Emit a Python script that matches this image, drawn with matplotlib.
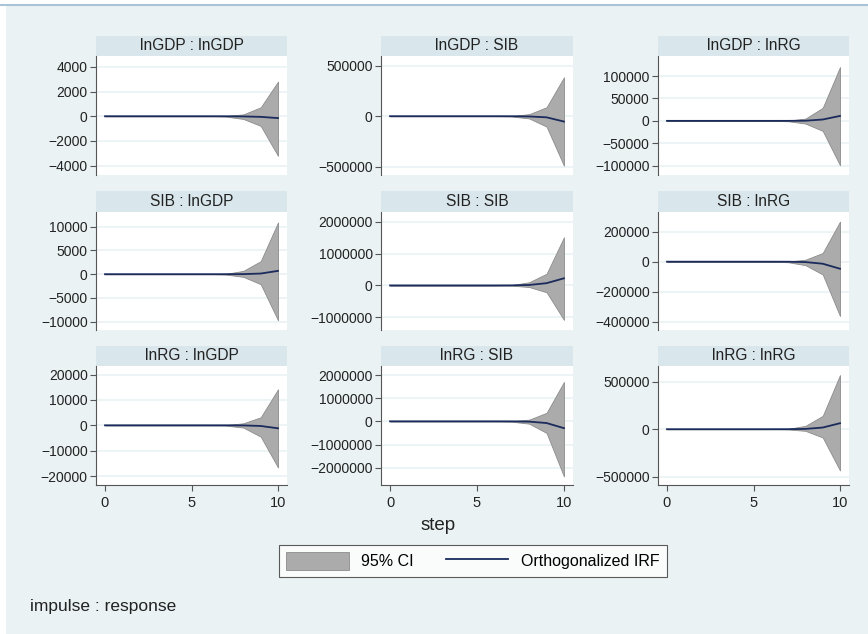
import matplotlib
matplotlib.use("Agg")
import matplotlib.pyplot as plt
from matplotlib.patches import Patch, Rectangle
from matplotlib.lines import Line2D

plt.rcParams["font.family"] = ["Liberation Sans", "DejaVu Sans"]

# impulse : response panels, row by row
titles = [
    "lnGDP : lnGDP", "lnGDP : SIB", "lnGDP : lnRG",
    "SIB : lnGDP", "SIB : SIB", "SIB : lnRG",
    "lnRG : lnGDP", "lnRG : SIB", "lnRG : lnRG",
]
steps = [0, 1, 2, 3, 4, 5, 6, 7, 8, 9, 10]

irf = [
    [0, 0, 0, 0, 0, 0, 0, -2, -15, -50, -150],
    [0, 0, 0, 0, 0, 0, 0, -300, -2500, -11000, -53000],
    [0, 0, 0, 0, 0, 0, 0, 20, 300, 3000, 11000],
    [0, 0, 0, 0, 0, 0, 0, 2, 20, 140, 700],
    [0, 0, 0, 0, 0, 0, 0, 1500, 15000, 71000, 224000],
    [0, 0, 0, 0, 0, 0, 0, -200, -2500, -13500, -47000],
    [0, 0, 0, 0, 0, 0, 0, -5, -40, -260, -1180],
    [0, 0, 0, 0, 0, 0, 0, -1500, -12000, -73500, -294000],
    [0, 0, 0, 0, 0, 0, 0, 300, 3000, 17500, 63000],
]
lower = [
    [0, 0, 0, 0, 0, 0, -3, -30, -220, -780, -3200],
    [0, 0, 0, 0, 0, 0, -200, -3000, -22000, -103000, -490000],
    [0, 0, 0, 0, 0, 0, -60, -800, -6000, -22300, -99000],
    [0, 0, 0, 0, 0, 0, -8, -80, -560, -2100, -9700],
    [0, 0, 0, 0, 0, 0, -600, -6000, -50000, -214000, -1080000],
    [0, 0, 0, 0, 0, 0, -300, -3500, -23000, -85000, -362000],
    [0, 0, 0, 0, 0, 0, -15, -120, -900, -4470, -16600],
    [0, 0, 0, 0, 0, 0, -1500, -15000, -100000, -500000, -2380000],
    [0, 0, 0, 0, 0, 0, -300, -2500, -17000, -87000, -434000],
]
upper = [
    [0, 0, 0, 0, 0, 0, 3, 25, 150, 720, 2800],
    [0, 0, 0, 0, 0, 0, 200, 2500, 20000, 89000, 385000],
    [0, 0, 0, 0, 0, 0, 60, 700, 5000, 29000, 120000],
    [0, 0, 0, 0, 0, 0, 8, 90, 700, 2750, 10900],
    [0, 0, 0, 0, 0, 0, 1000, 12000, 100000, 367000, 1510000],
    [0, 0, 0, 0, 0, 0, 200, 2000, 13000, 58000, 267000],
    [0, 0, 0, 0, 0, 0, 12, 100, 800, 3160, 14200],
    [0, 0, 0, 0, 0, 0, 1200, 10000, 73000, 368000, 1700000],
    [0, 0, 0, 0, 0, 0, 400, 4000, 35000, 140000, 570000],
]
yticks = [
    [-4000, -2000, 0, 2000, 4000],
    [-500000, 0, 500000],
    [-100000, -50000, 0, 50000, 100000],
    [-10000, -5000, 0, 5000, 10000],
    [-1000000, 0, 1000000, 2000000],
    [-400000, -200000, 0, 200000],
    [-20000, -10000, 0, 10000, 20000],
    [-2000000, -1000000, 0, 1000000, 2000000],
    [-500000, 0, 500000],
]
ylims = [
    (-4750, 4870), (-582000, 596000), (-120700, 144600),
    (-11750, 13100), (-1398000, 2304000), (-455000, 331000),
    (-23550, 23400), (-2748000, 2389000), (-587000, 665000),
]

W, H = 868, 634
BG = "#EAF2F3"
STRIP = "#D9E6EB"
BAND = "#ABABAB"
NAVY = "#1A2B5C"

fig = plt.figure(figsize=(W / 100, H / 100), dpi=100)
fig.patch.set_facecolor("white")
fig.patches.append(Rectangle((6 / W, 0), 1, 1 - 6 / H, transform=fig.transFigure,
                             facecolor=BG, edgecolor="none", zorder=-10))
fig.add_artist(Line2D([0, 1], [1 - 5 / H, 1 - 5 / H], color="#A9C4D6", lw=1.5))


def px_axes(x0, y0, x1, y1):
    return fig.add_axes([x0 / W, 1 - y1 / H, (x1 - x0) / W, (y1 - y0) / H])


cols = [(96, 287), (381, 573), (658, 849)]
rows = [(36, 56, 175), (191, 212, 330), (346, 366, 485)]


def fmt(v):
    return ("\u2212" + str(-v)) if v < 0 else str(v)


for i in range(9):
    r, c = divmod(i, 3)
    x0, x1 = cols[c]
    s0, p0, p1 = rows[r]

    sa = px_axes(x0, s0, x1, p0)
    sa.set_facecolor(STRIP)
    sa.set_xticks([])
    sa.set_yticks([])
    for sp in sa.spines.values():
        sp.set_visible(False)
    sa.text(0.5, 0.5, titles[i], ha="center", va="center", fontsize=11.2,
            color="#222222", transform=sa.transAxes)

    ax = px_axes(x0, p0, x1, p1)
    ax.set_facecolor("white")
    ax.fill_between(steps, lower[i], upper[i], facecolor=BAND, edgecolor="#8C8C8C",
                    lw=0.6, zorder=2)
    ax.plot(steps, irf[i], color=NAVY, lw=1.3, zorder=3)
    ax.set_xlim(-0.52, 10.52)
    ax.set_ylim(*ylims[i])
    ax.set_yticks(yticks[i])
    ax.set_yticklabels([fmt(v) for v in yticks[i]])
    for t in yticks[i]:
        ax.axhline(t, color=BG, lw=1.2, zorder=1)
    for side in ["top", "right"]:
        ax.spines[side].set_visible(False)
    ax.spines["left"].set_color("#555555")
    ax.tick_params(axis="y", labelsize=10, length=4, color="#555555", pad=2,
                   labelcolor="#222222")
    if r == 2:
        ax.set_xticks([0, 5, 10])
        ax.spines["bottom"].set_color("#555555")
        ax.tick_params(axis="x", labelsize=10.5, length=4, color="#555555", pad=4,
                       labelcolor="#222222")
    else:
        ax.set_xticks([])
        ax.spines["bottom"].set_visible(False)

fig.text(438 / W, 1 - 525 / H, "step", ha="center", va="center", fontsize=13.5,
         color="#222222")

handles = [
    Patch(facecolor=BAND, edgecolor="#8C8C8C", lw=0.6, label="95% CI"),
    Line2D([0], [0], color=NAVY, lw=1.3, label="Orthogonalized IRF"),
]
leg = fig.legend(handles=handles, loc="center", bbox_to_anchor=(473 / W, 1 - 561 / H),
                 ncol=2, fontsize=11.5, frameon=True, fancybox=False,
                 handlelength=3.9, handleheight=1.4, columnspacing=2.0,
                 borderpad=0.45, handletextpad=0.8)
leg.get_frame().set_edgecolor("#333333")
leg.get_frame().set_linewidth(0.8)
leg.get_frame().set_facecolor("white")

fig.text(30 / W, 1 - 607 / H, "impulse : response", ha="left", va="center",
         fontsize=12.5, color="#222222")

fig.savefig("out.png", dpi=100, facecolor=fig.get_facecolor())
